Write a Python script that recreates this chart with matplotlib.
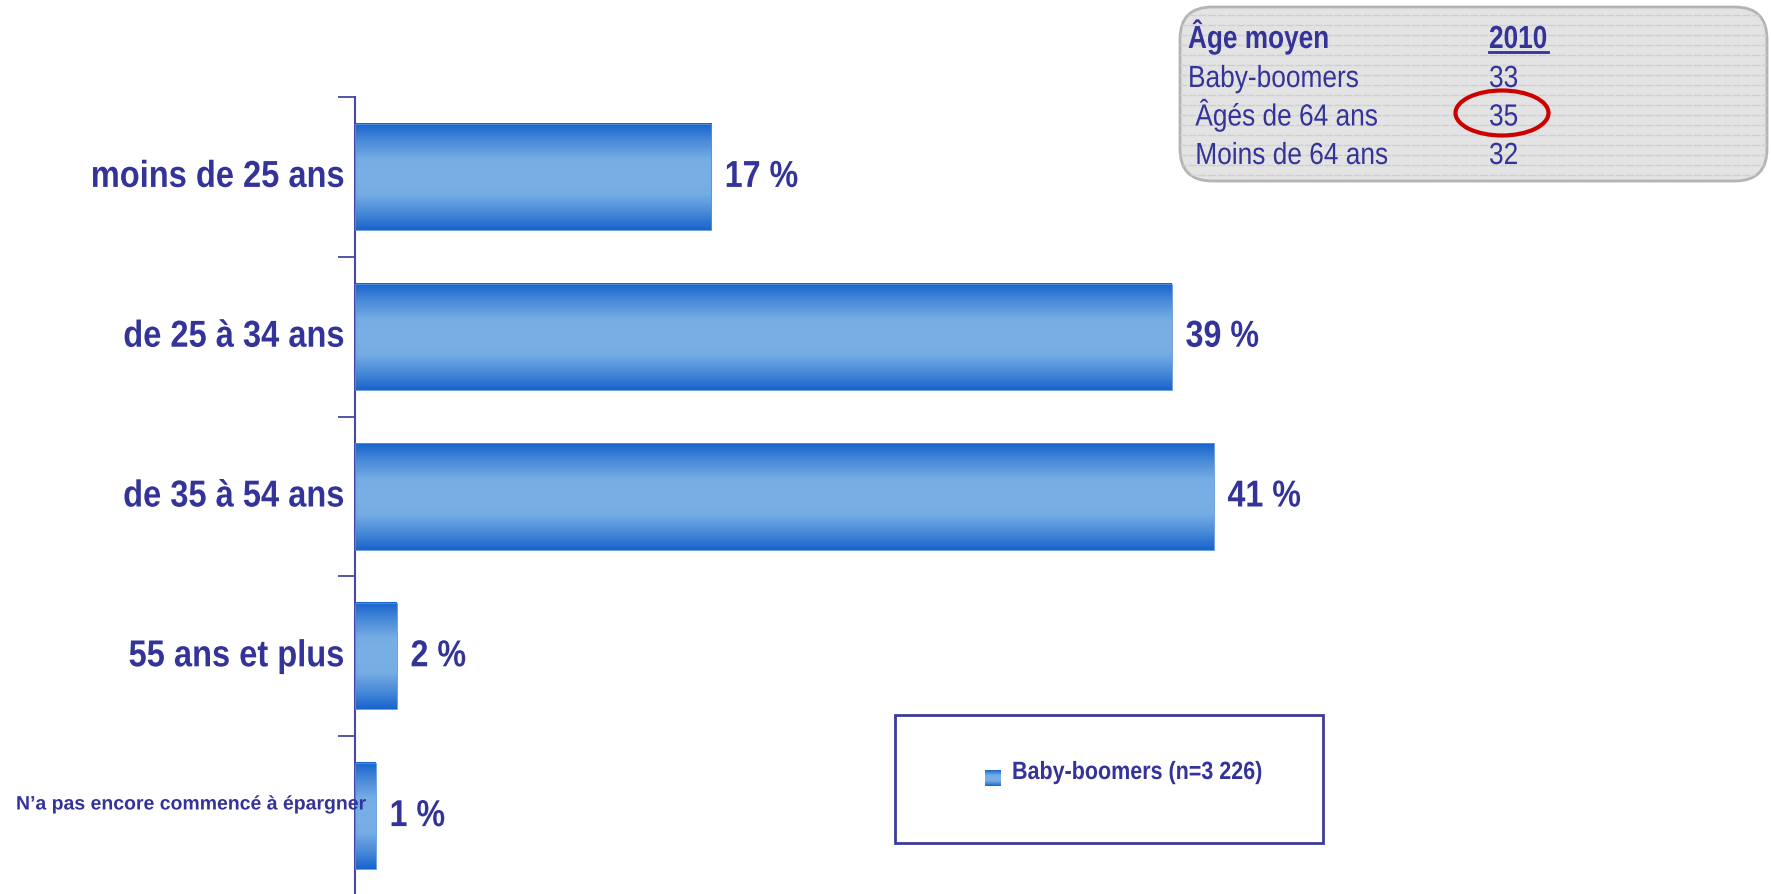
import matplotlib
matplotlib.use("Agg")
import matplotlib.pyplot as plt
import numpy as np
from matplotlib.colors import LinearSegmentedColormap
from matplotlib.patches import FancyBboxPatch, Rectangle, Ellipse
from matplotlib.patheffects import AbstractPathEffect
from matplotlib.transforms import Affine2D

plt.rcParams['font.family'] = ['Liberation Sans', 'DejaVu Sans']

categories = ["moins de 25 ans", "de 25 à 34 ans", "de 35 à 54 ans",
              "55 ans et plus", "N\u2019a pas encore commencé à épargner"]
values = [17, 39, 41, 2, 1]
value_labels = ["17 %", "39 %", "41 %", "2 %", "1 %"]
legend_label = "Baby-boomers (n=3 226)"

box_header = ["Âge moyen", "2010"]
box_rows = ["Baby-boomers", " Âgés de 64 ans", " Moins de 64 ans"]
box_values = ["33", "35", "32"]

navy = "#333399"
W, H = 1771, 894


class Narrow(AbstractPathEffect):
    # squeeze glyphs horizontally to fake a narrow font (Arial Narrow look)
    def __init__(self, sx=0.86, anchor='left'):
        super().__init__()
        self.sx = sx
        self.anchor = anchor

    def draw_path(self, renderer, gc, tpath, affine, rgbFace=None):
        x0 = tpath.vertices[:, 0].max() if self.anchor == 'right' else 0
        t = Affine2D().translate(-x0, 0).scale(self.sx, 1).translate(x0, 0)
        renderer.draw_path(gc, tpath, t + affine, rgbFace)


def txt(target, x, y, s, ha='left', sx=0.86, **kw):
    return target.text(x, y, s, ha=ha, color=navy,
                       path_effects=[Narrow(sx, 'right' if ha == 'right' else 'left')], **kw)


fig = plt.figure(figsize=(W / 100, H / 100), dpi=100)

ax = fig.add_axes([355 / W, -2 / H, 1 - 355 / W, (896 - 97) / H])
cmap = LinearSegmentedColormap.from_list(
    "bar", ["#1764cc", "#4a8ad8", "#74ade4", "#78b0e6", "#74ade4", "#4a8ad8", "#1764cc"])
grad = np.linspace(0, 1, 256).reshape(-1, 1)
h = 0.665
for i, v in enumerate(values):
    ax.imshow(grad, extent=[0, v, i + h / 2, i - h / 2], aspect='auto',
              cmap=cmap, interpolation='bilinear', zorder=2)
    ax.add_patch(Rectangle((0, i - h / 2), v, h, fill=False, ec="#5a90d8", lw=0.6, zorder=3))
    txt(ax, v + 0.65, i, value_labels[i], va='center', fontsize=27, fontweight='bold')

ax.set_xlim(0, 67.6)
ax.set_ylim(4.5, -0.5)
for s in ['top', 'right', 'bottom']:
    ax.spines[s].set_visible(False)
ax.spines['left'].set_color("#4848a0")
ax.spines['left'].set_linewidth(1.5)
ax.set_xticks([])
ax.set_yticks(np.arange(-0.5, 4, 1.0))
ax.set_yticklabels([])
ax.tick_params(axis='y', length=12, width=1.3, color="#4848a0", direction='out')

for i, c in enumerate(categories[:-1]):
    txt(ax, -0.5, i, c, ha='right', sx=0.87, va='center', fontsize=27, fontweight='bold')
txt(fig, 16 / W, 1 - 805 / H, categories[-1], sx=1.0, transform=fig.transFigure,
    va='center', fontsize=14, fontweight='bold')

# legend box
fig.add_artist(Rectangle((895 / W, 1 - 843 / H), 428 / W, 128 / H, fill=False,
                         ec="#3b3b9a", lw=2, transform=fig.transFigure))
lax = fig.add_axes([985 / W, 1 - 786 / H, 16 / W, 16 / H])
lax.imshow(grad, aspect='auto', cmap=cmap, extent=[0, 1, 0, 1])
lax.axis('off')
txt(fig, 1012 / W, 1 - 772 / H, legend_label, sx=0.86, va='center', fontsize=18,
    fontweight='bold')

# average-age box
bw, bh = 591, 178
bax = fig.add_axes([1178 / W, 1 - 183 / H, bw / W, bh / H])
bax.set_xlim(0, bw)
bax.set_ylim(0, bh)
bax.axis('off')
box = FancyBboxPatch((2, 2), bw - 4, bh - 4, boxstyle="round,pad=0,rounding_size=32",
                     fc="#e3e3e3", ec="#b4b4b4", lw=2, zorder=1)
bax.add_patch(box)
for yy in np.arange(8, bh, 10):
    ln, = bax.plot([0, bw], [yy, yy], color="#cfcfcf", lw=1, ls=(0, (6, 1)), zorder=1.5)
    ln.set_clip_path(box)

txt(bax, 10, 135, box_header[0], sx=0.82, va='baseline', fontsize=23, fontweight='bold')
txt(bax, 311, 135, box_header[1], sx=0.82, va='baseline', fontsize=23, fontweight='bold')
bax.plot([311, 370], [131, 131], color=navy, lw=2, zorder=3)
for k, (r, v) in enumerate(zip(box_rows, box_values)):
    yy = 96 - k * 38.5
    txt(bax, 10, yy, r, va='baseline', fontsize=22)
    txt(bax, 311, yy, v, va='baseline', fontsize=22)
bax.add_patch(Ellipse((324, 70), 93, 45, fill=False, ec="#cc0000", lw=3, zorder=4))

fig.savefig("out.png", dpi=100)
